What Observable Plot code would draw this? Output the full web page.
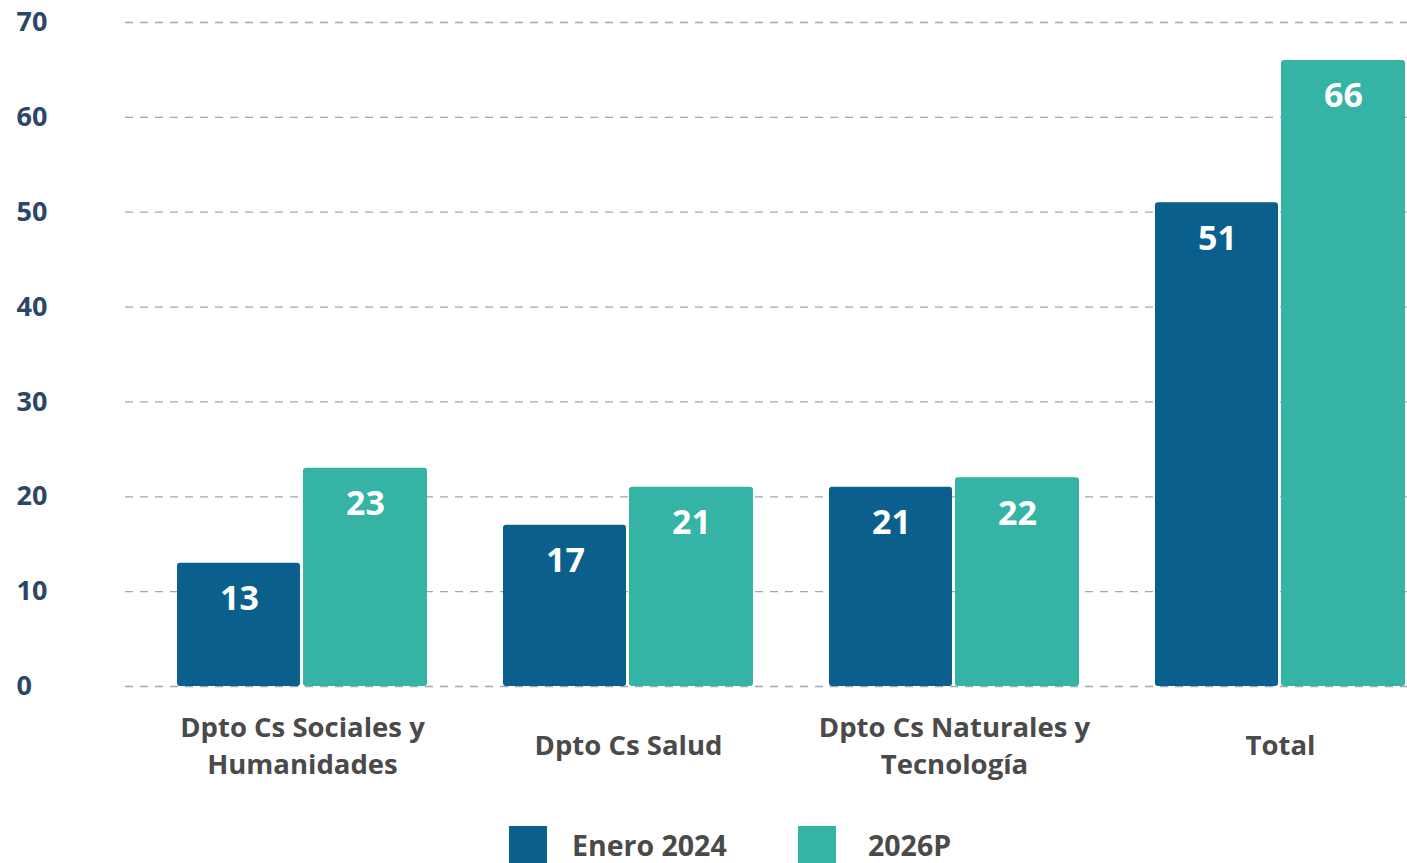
<!DOCTYPE html>
<html>
<head>
<meta charset="utf-8">
<script src="https://cdn.jsdelivr.net/npm/d3@7"></script>
<script src="https://cdn.jsdelivr.net/npm/@observablehq/plot@0.6"></script>
<style>
  html, body { margin: 0; padding: 0; background: #fff; overflow: hidden; }
  body { width: 1407px; height: 863px; position: relative; font-family: "Open Sans", sans-serif; }
  #legend { position: absolute; top: 826px; left: 0; width: 1407px; height: 40px; }
  .item { position: absolute; top: 0; display: flex; align-items: center; height: 38px; }
  .sw { width: 38px; height: 38px; }
  .lbl { font-weight: 700; font-size: 28.5px; color: #4a4a4a; }
</style>
</head>
<body>
<div id="chart"></div>
<div id="legend"></div>
<script>
const categories = ["Dpto Cs Sociales y Humanidades", "Dpto Cs Salud", "Dpto Cs Naturales y Tecnología", "Total"];
const categoryLabels = ["Dpto Cs Sociales y\nHumanidades", "Dpto Cs Salud", "Dpto Cs Naturales y\nTecnología", "Total"];
const seriesNames = ["Enero 2024", "2026P"];
const enero2024 = [13, 17, 21, 51];
const p2026 = [23, 21, 22, 66];
const yTicks = [0, 10, 20, 30, 40, 50, 60, 70];
const colors = ["#0b5f8c", "#35b3a5"];

const rows = categories.map((c, i) => ({cat: c, a: enero2024[i], b: p2026[i]}));
const labelOf = new Map(categories.map((c, i) => [c, categoryLabels[i]]));

const chart = Plot.plot({
  width: 1407,
  height: 800,
  marginLeft: 125,
  marginRight: 0,
  marginTop: 22,
  marginBottom: 114,
  style: {fontFamily: "'Open Sans', sans-serif", background: "#fff", overflow: "visible"},
  x: {domain: categories, range: [176, 1407], paddingInner: 0.232, paddingOuter: 0, label: null},
  y: {domain: [0, 70], ticks: yTicks, label: null},
  marks: [
    Plot.ruleY(yTicks, {stroke: "#8f9aa6", strokeWidth: 1.3, strokeDasharray: "8,7", strokeOpacity: 0.85}),
    Plot.barY(rows, {x: "cat", y: "a", fill: colors[0], insetRight: 127, rx: 3}),
    Plot.barY(rows, {x: "cat", y: "b", fill: colors[1], insetLeft: 126, rx: 3}),
    Plot.text(rows, {x: "cat", y: "a", text: d => String(d.a), dx: -63, dy: 36, fill: "#fff", fontSize: 34, fontWeight: 700, lineAnchor: "middle"}),
    Plot.text(rows, {x: "cat", y: "b", text: d => String(d.b), dx: 63, dy: 36, fill: "#fff", fontSize: 34, fontWeight: 700, lineAnchor: "middle"}),
    Plot.axisY({ticks: yTicks, tickSize: 0, textAnchor: "start", dx: -100, fontSize: 27, fontWeight: 700, fill: "#2b4669", label: null}),
    Plot.axisX({tickSize: 0, tickFormat: d => labelOf.get(d), lineAnchor: "middle", dy: 48, fontSize: 27.5, fontWeight: 700, fill: "#4a4a4a", lineHeight: 1.35, label: null})
  ]
});
document.getElementById("chart").appendChild(chart);

const legend = document.getElementById("legend");
const legendX = [[509, 572], [798, 868]];
seriesNames.forEach((name, i) => {
  const item = document.createElement("div");
  item.className = "item";
  item.style.left = legendX[i][0] + "px";
  const sw = document.createElement("div");
  sw.className = "sw";
  sw.style.background = colors[i];
  sw.style.marginRight = (legendX[i][1] - legendX[i][0] - 38) + "px";
  const lbl = document.createElement("span");
  lbl.className = "lbl";
  lbl.textContent = name;
  item.appendChild(sw);
  item.appendChild(lbl);
  legend.appendChild(item);
});
</script>
</body>
</html>
